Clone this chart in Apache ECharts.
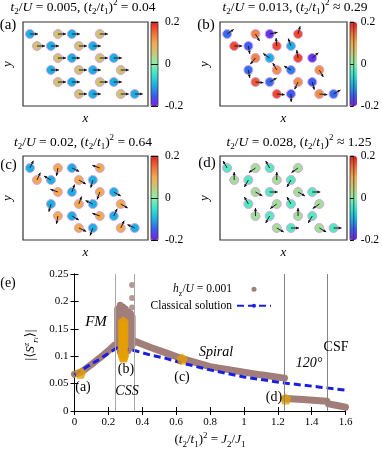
<!DOCTYPE html>
<html><head><meta charset="utf-8">
<script src="https://cdn.jsdelivr.net/npm/echarts@6/dist/echarts.min.js"></script>
<style>html,body{margin:0;padding:0;background:#fff}#c{width:382px;height:450px}</style>
</head><body><div id="c"></div>
<script>
// ---------------- data ----------------
// lattice sites (same in all four texture panels)
const siteX = [0,2,3,5, 0.5,1.5,3.5,4.5, 2,3,5,6, 1.5,3.5,4.5,6.5, 2,3,5,6, 3.5,4.5,6.5,7.5];
const siteY = [5,5,5,5, 4,4,4,4, 3,3,3,3, 2,2,2,2, 1,1,1,1, 0,0,0,0];
// S^z per site and in-plane spin angle (deg)
const szA = [-0.1,0.06,-0.1,0.06, 0.06,-0.1,0.06,-0.1, 0.06,-0.1,0.06,-0.1, -0.1,0.06,-0.1,0.06, 0.06,-0.1,0.06,-0.1, 0.06,-0.1,0.06,-0.1];
const angA = [0,0,0,0, 0,0,0,0, 0,0,0,0, 0,0,0,0, 0,0,0,0, 0,0,0,0];
const szB = [-0.14,0.13,-0.18,0.17, 0.17,-0.15,0.17,-0.1, 0.13,-0.1,0.17,-0.18, -0.14,0.12,-0.13,0.12, 0.16,-0.14,0.12,-0.15, 0.17,-0.15,0.12,-0.14];
const angB = [35,-60,12,75, 0,-80,95,110, -130,145,100,40, -80,120,150,-60, -5,30,-115,-75, -5,-88,-5,30];
const szC = [-0.1,0.1,-0.1,0.1, 0.1,-0.1,0.1,-0.1, 0.1,-0.1,0.1,-0.1, -0.1,0.1,-0.1,0.1, 0.1,-0.1,0.1,-0.1, 0.1,-0.1,0.1,-0.1];
const angC = [65,-100,-25,160, 65,150,-30,-105, 160,70,-110,-30, -105,70,155,-30, -100,-30,160,65, -25,-110,65,155];
const szD = [-0.03,0.02,-0.03,0.02, 0.02,-0.03,0.02,-0.03, 0.02,-0.03,0.02,-0.03, -0.03,0.02,-0.03,0.02, 0.02,-0.03,0.02,-0.03, 0.02,-0.03,0.02,-0.03];
const angD = [120,-145,120,-145, 90,-120,90,-120, -30,0,-30,0, 120,-145,120,-145, 90,-120,90,-120, -30,0,-30,0];
const colorbarTicks = ['-0.2','0','0.2'];

// panel (e)
const xTickLabels = ['0','0.2','0.4','0.6','0.8','1','1.2','1.4','1.6'];
const yTickLabels = ['0','0.05','0.1','0.15','0.2','0.25'];
const phaseLines = [0.245, 0.355, 1.24, 1.49];
const hzRise = [[0,0.067],[0.04,0.071],[0.1,0.085],[0.15,0.097],[0.2,0.11],[0.235,0.12]];
const hzColumn = [[0.255,0.118,0.186],[0.27,0.108,0.193],[0.285,0.104,0.19],[0.3,0.106,0.186],[0.315,0.11,0.181],[0.33,0.115,0.178],[0.34,0.12,0.172]];
const hzSpiral = [[0.36,0.127],[0.45,0.116],[0.54,0.106],[0.64,0.095],[0.8,0.081],[1.0,0.071],[1.1,0.066],[1.24,0.06]];
const hz120 = [[1.24,0.023],[1.35,0.021],[1.49,0.018]];
const hzCSF = [[1.5,0.013],[1.55,0.01],[1.6,0.007]];
const hzOutliers = [[0.34,0.23],[0.34,0.206],[0.34,0.189]];
const classical = [[0,0.066],[0.05,0.076],[0.1,0.086],[0.15,0.095],[0.2,0.105],[0.25,0.115],[0.3,0.113],[0.36,0.11],[0.45,0.102],[0.54,0.096],[0.64,0.087],[0.8,0.075],[1.0,0.062],[1.24,0.051],[1.44,0.044],[1.6,0.038]];
const markerPts = [[0.035,0.069],[0.29,0.099],[0.635,0.095],[1.247,0.022]];
const columnX = 0.288;
const columnY = [0.099,0.104,0.111,0.117,0.122,0.129,0.135,0.14,0.147,0.152,0.158,0.163];

// ---------------- style ----------------
const FONT = "'Liberation Serif','DejaVu Serif','Times New Roman',serif";
const cmap = ['#7a1ee6','#3c5cf2','#1cb0e2','#36e4cc','#88f0a8','#c8c87a','#f0aa50','#f06a38','#ee1a1a'];
const BROWN = '#a27e7a', ORANGE = '#e69f00', BLUE = '#1a1ee0';
const PENT = 'path://M0,-10 L9.51,-3.09 L5.88,8.09 L-5.88,8.09 L-9.51,-3.09 Z';

function rich(sz) {
  return {
    n: {fontFamily: FONT, fontSize: sz, lineHeight: sz + 5, color: '#000'},
    i: {fontFamily: FONT, fontSize: sz, fontStyle: 'italic', lineHeight: sz + 5, color: '#000'},
    s: {fontFamily: FONT, fontSize: Math.round(sz * 0.68), verticalAlign: 'bottom', lineHeight: Math.round(sz * 0.68), color: '#000'},
    si: {fontFamily: FONT, fontSize: Math.round(sz * 0.5), fontStyle: 'italic', verticalAlign: 'bottom', lineHeight: Math.round(sz * 0.5), color: '#000'},
    p: {fontFamily: FONT, fontSize: Math.round(sz * 0.68), verticalAlign: 'top', lineHeight: Math.round(sz * 0.68), color: '#000'},
    pi: {fontFamily: FONT, fontSize: Math.round(sz * 0.68), fontStyle: 'italic', verticalAlign: 'top', lineHeight: Math.round(sz * 0.68), color: '#000'},
    si2: {fontFamily: FONT, fontSize: Math.round(sz * 0.68), fontStyle: 'italic', verticalAlign: 'bottom', lineHeight: Math.round(sz * 0.68), color: '#000'}
  };
}

function arrowItem(params, api) {
  const p = api.coord([api.value(0), api.value(1)]);
  const a = api.value(2) * Math.PI / 180;
  const L = 8, h = 1.8;
  const ux = Math.cos(a), uy = -Math.sin(a);
  const ex = p[0] + L * ux, ey = p[1] + L * uy;
  const bx = ex - h * 1.6 * ux, by = ey - h * 1.6 * uy;
  const px = -uy, py = ux;
  return {type: 'group', children: [
    {type: 'line', shape: {x1: p[0], y1: p[1], x2: ex, y2: ey}, style: {stroke: '#111', lineWidth: 0.9}},
    {type: 'polygon', shape: {points: [[ex, ey], [bx + h * 0.8 * px, by + h * 0.8 * py], [bx - h * 0.8 * px, by - h * 0.8 * py]]}, style: {fill: '#111'}}
  ]};
}

const panelDefs = [
  {left: 21, top: 22, cbLeft: 151, sz: szA, ang: angA},
  {left: 220, top: 22, cbLeft: 350, sz: szB, ang: angB},
  {left: 21, top: 156, cbLeft: 151, sz: szC, ang: angC},
  {left: 220, top: 156, cbLeft: 350, sz: szD, ang: angD}
];

const grids = [], xAxes = [], yAxes = [], series = [], visualMaps = [];
const axisNameStyle = {fontFamily: FONT, fontStyle: 'italic', fontSize: 13, color: '#000'};

panelDefs.forEach((p, k) => {
  grids.push({left: p.left, top: p.top, width: 127, height: 84, show: true, borderColor: '#333', borderWidth: 1.2});
  xAxes.push({gridIndex: k, type: 'value', min: -0.5, max: 8.45, axisLine: {show: false}, axisTick: {show: false}, axisLabel: {show: false}, splitLine: {show: false},
    name: 'x', nameLocation: 'middle', nameGap: 6, nameTextStyle: axisNameStyle});
  yAxes.push({gridIndex: k, type: 'value', min: -1, max: 6, axisLine: {show: false}, axisTick: {show: false}, axisLabel: {show: false}, splitLine: {show: false},
    name: 'y', nameLocation: 'middle', nameGap: 9, nameRotate: 90, nameTextStyle: axisNameStyle});
});

// panel (e) grid: index 4
grids.push({left: 74.5, top: 274, width: 271, height: 137, show: false});
const eTick = {show: true, inside: true, length: 4, lineStyle: {color: '#000', width: 1}};
const eLine = {show: true, lineStyle: {color: '#000', width: 1}};
xAxes.push({gridIndex: 4, type: 'value', min: 0, max: 1.6, interval: 0.2, axisLine: eLine, axisTick: eTick, splitLine: {show: false},
  axisLabel: {fontFamily: FONT, fontSize: 11, color: '#000', margin: 6, formatter: v => xTickLabels[Math.round(v / 0.2)]}});
xAxes.push({gridIndex: 4, type: 'value', position: 'top', min: 0, max: 1.6, interval: 0.2, axisLine: eLine, axisTick: eTick, splitLine: {show: false}, axisLabel: {show: false}});
yAxes.push({gridIndex: 4, type: 'value', min: 0, max: 0.25, interval: 0.05, axisLine: eLine, axisTick: eTick, splitLine: {show: false},
  axisLabel: {fontFamily: FONT, fontSize: 11, color: '#000', margin: 6, formatter: v => yTickLabels[Math.round(v / 0.05)]}});
yAxes.push({gridIndex: 4, type: 'value', position: 'right', min: 0, max: 0.25, interval: 0.05, axisLine: eLine, axisTick: eTick, splitLine: {show: false}, axisLabel: {show: false}});

// colorbars: grids 5..8
panelDefs.forEach((p, k) => {
  grids.push({left: p.cbLeft, top: p.top, width: 7, height: 84, show: true, borderColor: '#333', borderWidth: 0.8, z: 5});
  xAxes.push({gridIndex: 5 + k, type: 'value', min: 0, max: 1, show: false});
  yAxes.push({gridIndex: 5 + k, type: 'value', position: 'right', min: -0.2, max: 0.2, interval: 0.2, z: 5,
    axisLine: {show: false}, axisTick: {show: false},
    splitLine: {show: true, lineStyle: {color: '#111', width: 1}},
    axisLabel: {fontFamily: FONT, fontSize: 11.5, color: '#000', margin: 7, formatter: v => colorbarTicks[Math.round((v + 0.2) / 0.2)]}});
  visualMaps.push({type: 'continuous', seriesIndex: k, dimension: 2, min: -0.2, max: 0.2, inRange: {color: cmap},
    calculable: false, orient: 'vertical', left: p.cbLeft, top: p.top, itemWidth: 7, itemHeight: 84, padding: 0,
    text: null, show: true, z: 1, hoverLink: false});
});

// site scatters 0..3
panelDefs.forEach((p, k) => {
  series.push({type: 'scatter', xAxisIndex: k, yAxisIndex: k, symbolSize: 9, z: 2,
    itemStyle: {borderColor: '#d6a4e8', borderWidth: 1, opacity: 1},
    data: siteX.map((x, i) => [x, siteY[i], p.sz[i]])});
});
// arrows 4..7
panelDefs.forEach((p, k) => {
  series.push({type: 'custom', xAxisIndex: k, yAxisIndex: k, z: 3, renderItem: arrowItem, encode: {x: 0, y: 1},
    data: siteX.map((x, i) => [x, siteY[i], p.ang[i]])});
});

// panel (e) series
const GAP = ['-', '-'];
const hzData = [].concat(hzRise, [GAP]);
hzColumn.forEach(c => { hzData.push([c[0], c[1]], [c[0], c[2]], GAP); });
hzData.push(...hzSpiral, GAP, ...hz120, GAP, ...hzCSF);

series.push({type: 'line', name: 'bounds', xAxisIndex: 4, yAxisIndex: 4, data: [], z: 1,
  markLine: {silent: true, symbol: ['none', 'none'], label: {show: false}, animation: false,
    data: phaseLines.map((x, i) => ({xAxis: x, lineStyle: {color: i < 2 ? '#a8a8a8' : '#858585', width: 1, type: 'solid'}}))}});
series.push({type: 'line', name: 'hz', xAxisIndex: 4, yAxisIndex: 4, data: hzData, showSymbol: false, symbol: 'none', z: 2,
  connectNulls: false, color: BROWN, lineStyle: {color: BROWN, width: 7, cap: 'round', join: 'round'}});
series.push({type: 'scatter', name: 'hz', xAxisIndex: 4, yAxisIndex: 4, data: hzOutliers, symbolSize: 6, z: 2, itemStyle: {color: BROWN}});
series.push({type: 'line', name: 'Classical solution', xAxisIndex: 4, yAxisIndex: 4, data: classical, symbol: 'none', z: 3,
  color: BLUE, lineStyle: {color: BLUE, width: 3, type: [7, 4]}});
series.push({type: 'scatter', name: 'column', xAxisIndex: 4, yAxisIndex: 4, data: columnY.map(y => [columnX, y]), symbol: PENT, symbolSize: 11, z: 4, itemStyle: {color: ORANGE}});
series.push({type: 'scatter', name: 'marks', xAxisIndex: 4, yAxisIndex: 4, data: markerPts, symbol: PENT, symbolSize: 11, z: 4, itemStyle: {color: ORANGE}});

// texts
function txt(x, y, text, size, opts) {
  return Object.assign({type: 'text', x: x, y: y, z: 10, style: Object.assign({text: text, rich: rich(size),
    font: size + 'px ' + FONT, fill: '#000', align: 'center', textAlign: 'center', verticalAlign: 'middle', textVerticalAlign: 'middle'}, (opts && opts.style) || {})}, (opts && opts.el) || {});
}
const titleSize = 13.5;
const graphics = [
  txt(83, 7, '{i|t}{s|2}{n|/}{i|U}{n| = 0.005, (}{i|t}{s|2}{n|/}{i|t}{s|1}{n|)}{p|2}{n| = 0.04}', titleSize),
  txt(295, 7, '{i|t}{s|2}{n|/}{i|U}{n| = 0.013, (}{i|t}{s|2}{n|/}{i|t}{s|1}{n|)}{p|2}{n| ≈ 0.29}', titleSize),
  txt(83, 142, '{i|t}{s|2}{n|/}{i|U}{n| = 0.02, (}{i|t}{s|2}{n|/}{i|t}{s|1}{n|)}{p|2}{n| = 0.64}', titleSize),
  txt(299, 142, '{i|t}{s|2}{n|/}{i|U}{n| = 0.028, (}{i|t}{s|2}{n|/}{i|t}{s|1}{n|)}{p|2}{n| ≈ 1.25}', titleSize),
  txt(8, 25, '(a)', 15), txt(206, 25, '(b)', 15), txt(8.5, 165, '(c)', 15), txt(207, 163, '(d)', 15),
  txt(8, 283, '(e)', 14),
  txt(96, 322, '{i|FM}', 15), txt(127, 391, '{i|CSS}', 14), txt(216, 352, '{i|Spiral}', 14),
  txt(309, 363, '{i|120°}', 14), txt(336, 347, 'CSF', 14),
  txt(83, 387, '(a)', 14), txt(126, 369, '(b)', 14), txt(182, 377, '(c)', 14), txt(274, 397, '(d)', 14),
  txt(210, 440, '{n|(}{i|t}{s|2}{n|/}{i|t}{s|1}{n|)}{p|2}{n| = }{i|J}{s|2}{n|/}{i|J}{s|1}', 13),
  txt(31, 345, '{n||⟨}{i|S}{pi|z}{si2|r}{si|i}{n|⟩|}', 13, {el: {rotation: Math.PI / 2}})
];

const chart = echarts.init(document.getElementById('c'), null, {renderer: 'canvas'});
chart.setOption({
  animation: false,
  backgroundColor: '#fff',
  grid: grids, xAxis: xAxes, yAxis: yAxes, visualMap: visualMaps, series: series,
  legend: {data: [{name: 'hz', icon: 'circle'}, {name: 'Classical solution'}], orient: 'vertical', align: 'right',
    right: 110, top: 281, itemWidth: 34, itemHeight: 5, itemGap: 0, selectedMode: false, padding: 0,
    formatter: n => n === 'hz' ? '{i|h}{s|z}{n|/}{i|U}{n| = 0.001}' : '{n|' + n + '}',
    textStyle: {fontFamily: FONT, fontSize: 11.5, color: '#000', lineHeight: 12, rich: rich(11.5)}},
  graphic: graphics
});
</script>
</body></html>
